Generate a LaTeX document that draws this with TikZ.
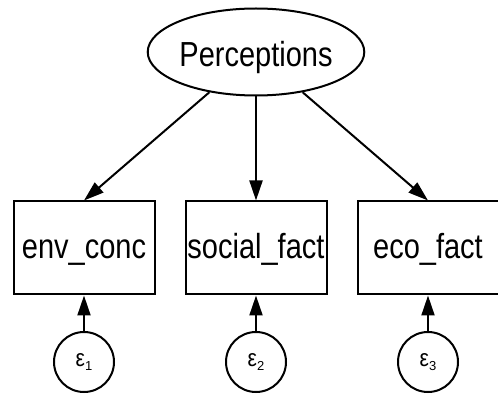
\documentclass[tikz,border=0pt]{standalone}
\usepackage{fontspec}
\usepackage{graphicx}
\setmainfont{Liberation Sans}
\usetikzlibrary{shapes.geometric,arrows.meta}
\newcommand{\tallt}[2]{\raisebox{-#1pt}[10pt][10pt]{\scalebox{1}[1.2]{#2}}}
\newcommand{\errlabel}[1]{\scalebox{1}[1.15]{ε}\raisebox{-4pt}{\fontsize{13}{15}\selectfont #1}}
\tikzset{
  latent/.style={draw,ellipse,line width=2pt,inner sep=0pt,minimum width=177pt,minimum height=87pt,font=\fontsize{29}{34}\selectfont},
  observed/.style={draw,rectangle,line width=2pt,inner sep=0pt,minimum width=141pt,minimum height=93pt,font=\fontsize{29}{34}\selectfont},
  errnode/.style={draw,circle,line width=2pt,inner sep=0pt,minimum size=60pt,font=\fontsize{21}{24}\selectfont},
  path/.style={line width=2pt,-{Triangle[length=20pt,width=13pt]}}
}
\begin{document}
\begin{tikzpicture}[x=1pt,y=-1pt]
      \useasboundingbox (0,0) rectangle (498,395);
      \draw
        (256,52) node[latent] (perc){\tallt{15}{Perceptions}}
        (84,248) node[observed] (env){\tallt{11}{env\_conc}}
        (256,248) node[observed] (soc){\tallt{11}{social\_fact}}
        (428,248) node[observed] (eco){\tallt{11}{eco\_fact}}
        (84,362) node[errnode] (e1){\errlabel{1}}
        (256,362) node[errnode] (e2){\errlabel{2}}
        (428,362) node[errnode] (e3){\errlabel{3}};
      \begin{scope}[path]
        \draw (perc) to (env.north);
        \draw (perc) to (soc.north);
        \draw (perc) to (eco.north);
        \draw (e1) to (env);
        \draw (e2) to (soc);
        \draw (e3) to (eco);
      \end{scope}
    \end{tikzpicture}
\end{document}
